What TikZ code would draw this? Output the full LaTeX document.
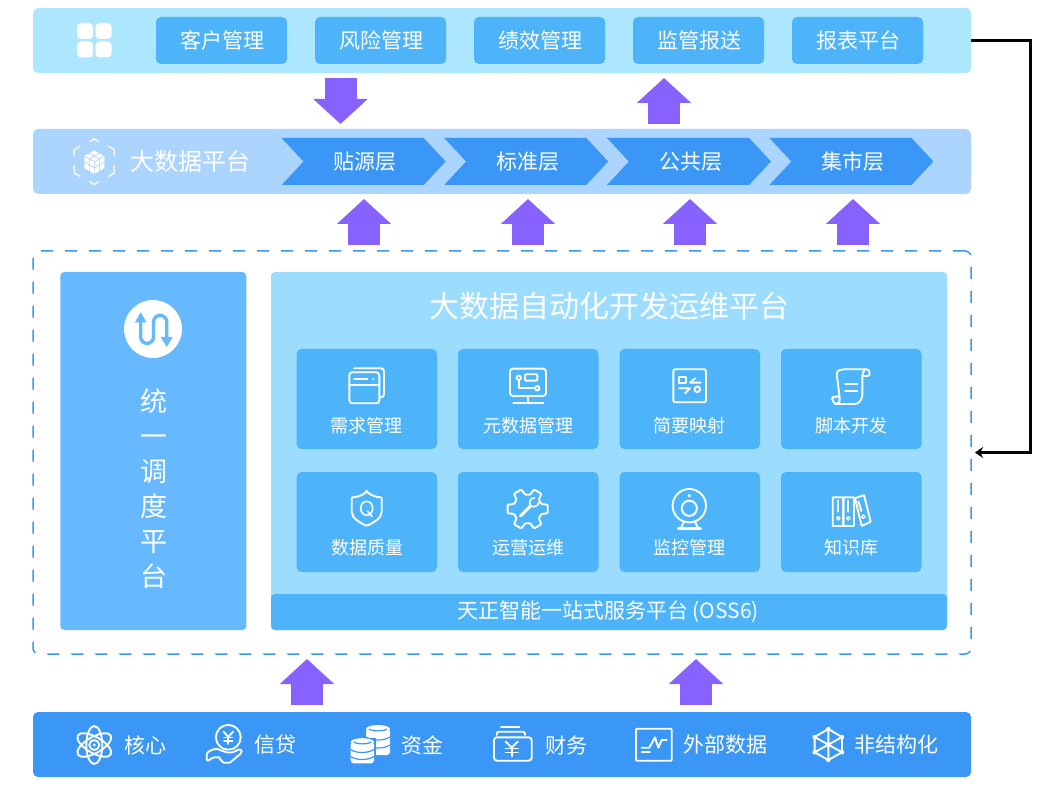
\documentclass[tikz,border=0pt]{standalone}
\usepackage{fontspec}
\setmainfont{Noto Sans CJK SC}
\usetikzlibrary{arrows.meta,shapes.symbols}

\definecolor{topblue}{HTML}{ADE6FF}
\definecolor{midblue}{HTML}{ABD4FF}
\definecolor{deepblue}{HTML}{3A97F5}
\definecolor{cardblue}{HTML}{4DB4FA}
\definecolor{sideblue}{HTML}{66B8FF}
\definecolor{panelblue}{HTML}{9BDCFF}
\definecolor{flowpurple}{HTML}{8762FF}

\tikzset{
	bar/.style={inner sep=0pt, outer sep=0pt, minimum width=938pt, minimum height=65pt, rounded corners=5pt},
	btn/.style={fill=cardblue, text=white, inner sep=0pt, outer sep=0pt, minimum width=131pt, minimum height=47pt, rounded corners=5pt, font=\fontsize{21pt}{21pt}\selectfont},
	chev/.style={signal, signal from=west, signal to=east, signal pointer angle=94, fill=deepblue, text=white, inner sep=0pt, outer sep=0pt, minimum width=164pt, minimum height=47pt, font=\fontsize{21pt}{21pt}\selectfont, execute at begin node=\hspace{3pt}},
	card/.style={fill=cardblue, inner sep=0pt, outer sep=0pt, minimum width=140.5pt, minimum height=100pt, rounded corners=5pt},
	cardtext/.style={text=white, inner sep=0pt, font=\fontsize{18pt}{18pt}\selectfont},
	srctext/.style={text=white, inner sep=0pt, font=\fontsize{21pt}{21pt}\selectfont},
	flow/.style={line width=32pt, draw=flowpurple, -{Triangle[width=53pt,length=25pt]}},
	icon/.style={draw=white, line width=1.9pt, line cap=round, line join=round},
	dot/.style={fill=white, draw=none}
}

\begin{document}
\begin{tikzpicture}[x=1pt, y=-1pt]
	\useasboundingbox (0, 0) rectangle (1053, 794);
	
	%%%%% top row %%%%%
	\node[bar, fill=topblue] (topbar) at (502, 40.5) {};
	\node[btn, execute at begin node=\hspace{2pt}] (custom) at (221.5, 40.5) {客户管理};
	\node[btn, execute at begin node=\hspace{2pt}] (risk) at (380.5, 40.5) {风险管理};
	\node[btn, execute at begin node=\hspace{2pt}] (perf) at (539.5, 40.5) {绩效管理};
	\node[btn, execute at begin node=\hspace{2pt}] (report) at (698.5, 40.5) {监管报送};
	\node[btn, execute at begin node=\hspace{2pt}] (forms) at (857.5, 40.5) {报表平台};
	
	\fill[dot, rounded corners=4pt] (77, 23) rectangle (93, 39);
	\fill[dot, rounded corners=4pt] (95.5, 23) rectangle (111.5, 39);
	\fill[dot, rounded corners=4pt] (77, 41.5) rectangle (93, 57.5);
	\fill[dot, rounded corners=4pt] (95.5, 41.5) rectangle (111.5, 57.5);
	
	%%%%% big data row %%%%%
	\node[bar, fill=midblue] (bigdata) at (502, 161.5) {};
	\node[text=white, inner sep=0pt, font=\fontsize{24pt}{24pt}\selectfont] (bigtitle) at (190, 161) {大数据平台};
	\node[chev] (source) at (363.6, 161.5) {贴源层};
	\node[chev] (standard) at (526.2, 161.5) {标准层};
	\node[chev] (common) at (689, 161.5) {公共层};
	\node[chev] (market) at (851.4, 161.5) {集市层};
	
	\draw[icon, line width=1.3pt] (90, 141.5) -- (94.3, 138.7) -- (98.6, 141.5);
	\draw[icon, line width=1.3pt] (90, 181.5) -- (94.3, 184.7) -- (98.6, 181.5);
	\draw[icon, line width=1.3pt] (80, 146.3) -- (74.3, 149.7) -- (74.3, 155.7);
	\draw[icon, line width=1.3pt] (74.3, 165.7) -- (74.3, 173) -- (80, 176.3);
	\draw[icon, line width=1.3pt] (108.6, 146.3) -- (114.3, 149.7) -- (114.3, 155.7);
	\draw[icon, line width=1.3pt] (114.3, 165.7) -- (114.3, 173) -- (108.6, 176.3);
	\fill[dot] (94.3, 150.5) -- (104.3, 156) -- (104.3, 168) -- (94.3, 174) -- (84.3, 168) -- (84.3, 156) -- cycle;
	\draw[midblue, line width=0.6pt] (84.3, 156) -- (94.3, 162) -- (104.3, 156) (94.3, 162) -- (94.3, 174);
	\draw[midblue, line width=0.6pt] (89.3, 153.2) -- (99.3, 159) (99.3, 153.2) -- (89.3, 159);
	\draw[midblue, line width=0.6pt] (84.3, 162) -- (94.3, 168) -- (104.3, 162) (89.3, 159) -- (89.3, 171) (99.3, 159) -- (99.3, 171);
	
	%%%%% dashed frame %%%%%
	\node[draw=deepblue, line width=1.5pt, dash pattern=on 12pt off 12pt, inner sep=0pt, outer sep=0pt, minimum width=938pt, minimum height=403pt, rounded corners=6pt] (frame) at (502, 452.5) {};
	
	\node[fill=sideblue, inner sep=0pt, outer sep=0pt, minimum width=186pt, minimum height=358pt, rounded corners=4pt] (side) at (153.25, 451) {};
	\node[text=white, inner sep=0pt, align=center, font=\fontsize{27pt}{35pt}\selectfont] (sidetext) at (153.5, 488.5) {统\\一\\调\\度\\平\\台};
	
	\fill[dot] (153, 329) circle (29);
	\draw[sideblue, line width=3.4pt] (140.7, 321) -- (140.7, 337) arc[start angle=180, end angle=360, radius=6.4pt] -- (153.5, 322) arc[start angle=180, end angle=0, radius=6.6pt] -- (166.7, 338);
	\fill[sideblue] (134.8, 322.5) -- (140.7, 312.3) -- (146.6, 322.5) -- cycle;
	\fill[sideblue] (160.7, 337) -- (166.7, 347) -- (172.7, 337) -- cycle;
	
	\node[fill=panelblue, inner sep=0pt, outer sep=0pt, minimum width=676pt, minimum height=358pt, rounded corners=4pt] (panel) at (609, 451) {};
	\node[text=white, inner sep=0pt, font=\fontsize{30pt}{30pt}\selectfont] (paneltitle) at (609, 306) {大数据自动化开发运维平台};
	\node[fill=cardblue, text=white, inner sep=0pt, outer sep=0pt, minimum width=676pt, minimum height=36pt, rounded corners=4pt, font=\fontsize{21pt}{21pt}\selectfont] (oss) at (609, 612) {\hspace{-2pt}天正智能一站式服务平台 (OSS6)};
	
	\node[card] (cardA) at (366.75, 399) {};
	\node[card] (cardB) at (528.25, 399) {};
	\node[card] (cardC) at (689.75, 399) {};
	\node[card] (cardD) at (851.25, 399) {};
	\node[card] (cardE) at (366.75, 522) {};
	\node[card] (cardF) at (528.25, 522) {};
	\node[card] (cardG) at (689.75, 522) {};
	\node[card] (cardH) at (851.25, 522) {};
	\node[cardtext] (textA) at (366.75, 425.5) {需求管理};
	\node[cardtext] (textB) at (528.25, 425.5) {元数据管理};
	\node[cardtext] (textC) at (689.75, 425.5) {简要映射};
	\node[cardtext] (textD) at (851.25, 425.5) {脚本开发};
	\node[cardtext] (textE) at (367.5, 547.5) {数据质量};
	\node[cardtext] (textF) at (528.25, 547.5) {运营运维};
	\node[cardtext] (textG) at (689.75, 547.5) {监控管理};
	\node[cardtext] (textH) at (851.25, 547.5) {知识库};
	
	% windows
	\draw[icon, rounded corners=3pt] (349.3, 372.3) rectangle (379.3, 403.3);
	\draw[icon] (349.3, 385) -- (379.3, 385);
	\draw[icon] (354, 379.3) -- (367.3, 379.3);
	\fill[dot] (373.3, 379.3) circle (1.2);
	\draw[icon, rounded corners=3pt] (354, 368.3) -- (384, 368.3) -- (384, 397.3) -- (379.3, 397.3);
	
	% monitor
	\draw[icon, rounded corners=3pt] (510, 368.7) rectangle (546, 396);
	\draw[icon] (527.7, 396) -- (527.7, 402.7);
	\draw[icon] (513.3, 402.7) -- (543.3, 402.7);
	\draw[icon] (518.7, 377.7) circle (2.2);
	\draw[icon] (518.7, 380) -- (518.7, 388.3) -- (535, 388.3);
	\draw[icon] (537.3, 388.3) circle (2.2);
	\draw[icon, rounded corners=1pt] (525, 374.3) rectangle (537.3, 380.7);
	
	% mapping
	\draw[icon, rounded corners=2pt] (673.3, 369.3) rectangle (706, 402.3);
	\draw[icon] (679, 377.3) -- (686, 377.3) -- (686, 382.7) -- (679, 382.7) -- cycle;
	\draw[icon] (679, 388.3) -- (690, 388.3) -- (685, 393.3);
	\draw[icon] (700.7, 382.7) -- (690, 382.7) -- (695, 378.3);
	\draw[icon] (697.3, 389.3) circle (2.8);
	
	% scroll
	\draw[icon, rounded corners=2.5pt] (862.3, 376) -- (870, 376) -- (869, 369.3) -- (842, 369.3) -- (836.5, 371.5) -- (839.5, 397) -- (840, 402) -- (836.7, 404) -- (834, 403.5) -- (832, 399.3) -- (832.7, 396.7) -- (839.5, 396.7);
	\draw[icon, rounded corners=3pt] (836.7, 404) -- (858, 404) -- (862.3, 398) -- (862.3, 373) -- (865, 369.3);
	\draw[icon] (845, 384.3) -- (857.3, 384.3);
	\draw[icon] (845, 390.7) -- (857.3, 390.7);
	
	% shield
	\draw[icon, rounded corners=1pt] (366.7, 491.7) .. controls (362, 495.5) and (357, 497.3) .. (351.7, 497.3) -- (351.7, 511) .. controls (351.7, 518) and (360, 523) .. (366.7, 525.7) .. controls (373.4, 523) and (381.7, 518) .. (381.7, 511) -- (381.7, 497.3) .. controls (376.4, 497.3) and (371.4, 495.5) .. cycle;
	\draw[icon, line width=1.6pt] (366.7, 508.3) ellipse (6 and 7);
	\draw[icon, line width=1.6pt] (367.5, 511) -- (372, 516.5);
	
	% gear
	\begin{scope}[shift={(527.7, 509)}]
		\draw[icon, rounded corners=1pt] (-12:20.5pt) -- (12:20.5pt) -- (20:14.5pt) -- (40:14.5pt) -- (48:20.5pt) -- (72:20.5pt) -- (80:14.5pt) -- (100:14.5pt) -- (108:20.5pt) -- (132:20.5pt) -- (140:14.5pt) -- (160:14.5pt) -- (168:20.5pt) -- (192:20.5pt) -- (200:14.5pt) -- (220:14.5pt) -- (228:20.5pt) -- (252:20.5pt) -- (260:14.5pt) -- (280:14.5pt) -- (288:20.5pt) -- (312:20.5pt) -- (320:14.5pt) -- (340:14.5pt) -- cycle;
	\end{scope}
	\draw[icon, line width=3pt] (520.5, 516) -- (530.5, 506);
	\draw[icon, line width=1.7pt] (534.5, 497.8) .. controls (530, 498) and (528.5, 502.5) .. (530.5, 505.5) .. controls (533, 508) and (538, 506.5) .. (539, 502.5);
	
	% camera
	\draw[icon] (689.3, 505.7) circle (16.7);
	\draw[icon] (689.3, 508.3) circle (7.6);
	\fill[dot] (689.3, 495.7) circle (1.8);
	\draw[icon] (684, 521.7) -- (680.7, 528.3);
	\draw[icon] (695, 521.7) -- (698.3, 528.3);
	\draw[icon, line width=2.6pt] (678.3, 528.3) -- (700.7, 528.3);
	
	% binders
	\draw[icon, rounded corners=0.5pt] (832.7, 497.3) rectangle (843.3, 526);
	\draw[icon, rounded corners=0.5pt] (843.3, 497.3) rectangle (854, 526);
	\draw[icon, rounded corners=0.5pt] (855, 498.3) -- (864, 495) -- (870.7, 521.7) -- (861.7, 526) -- cycle;
	\draw[icon] (838.3, 500.7) -- (838.3, 511.7);
	\draw[icon] (848.3, 500.7) -- (848.3, 511.7);
	\draw[icon] (858.5, 501.5) -- (861.3, 511);
	\draw[icon, line width=1.2pt] (838.3, 518.3) circle (1.8);
	\draw[icon, line width=1.2pt] (848.3, 518.3) circle (1.8);
	\draw[icon, line width=1.2pt] (863.3, 516.7) circle (1.8);
	
	%%%%% source row %%%%%
	\node[bar, fill=deepblue] (srcbar) at (502, 744.5) {};
	\node[srctext] (core) at (145.5, 745) {核心};
	\node[srctext] (credit) at (275, 745) {信贷};
	\node[srctext] (fund) at (422.5, 745) {资金};
	\node[srctext] (finance) at (566, 745) {财务};
	\node[srctext] (external) at (725.5, 745) {外部数据};
	\node[srctext] (unstruct) at (896, 745) {非结构化};
	
	% atom
	\draw[icon, rotate around={30:(94.3, 745)}] (94.3, 745) ellipse (19 and 8);
	\draw[icon, rotate around={90:(94.3, 745)}] (94.3, 745) ellipse (19 and 8);
	\draw[icon, rotate around={150:(94.3, 745)}] (94.3, 745) ellipse (19 and 8);
	\draw[icon] (94.3, 745) circle (5);
	\fill[dot] (94.3, 745) circle (1.6);
	
	% coin in hand
	\draw[icon] (228.3, 737.3) circle (12.4);
	\draw[icon] (223.5, 731.5) -- (228.3, 737) -- (233.1, 731.5);
	\draw[icon] (228.3, 737) -- (228.3, 744);
	\draw[icon, line width=1.6pt] (224, 737.5) -- (232.6, 737.5);
	\draw[icon, line width=1.6pt] (224, 741) -- (232.6, 741);
	\draw[icon, rounded corners=2.5pt] (206.7, 752.7) .. controls (212, 749.5) and (216, 748.5) .. (220, 750) .. controls (224, 751.5) and (227, 752.5) .. (230, 752.7) .. controls (234, 752) and (238, 749.5) .. (241.7, 749.3) -- (241.7, 753.3) .. controls (236, 757) and (231, 762.7) .. (226.7, 762.7) .. controls (222, 762.7) and (219, 757.3) .. (216.7, 757.3) .. controls (213, 757.3) and (210, 759.5) .. (206.7, 761.7) -- cycle;
	
	% coins
	\fill[dot, rounded corners=3pt] (366, 729) rectangle (390, 755);
	\fill[dot] (378, 729) ellipse (12 and 4);
	\draw[deepblue, line width=1.2pt] (369, 729) .. controls (372, 731.5) and (384, 731.5) .. (387, 729);
	\draw[deepblue, line width=1.2pt] (366, 737) .. controls (372, 741) and (384, 741) .. (390, 737);
	\draw[deepblue, line width=1.2pt] (366, 745) .. controls (372, 749) and (384, 749) .. (390, 745);
	\fill[deepblue] (348.9, 738) rectangle (375.8, 764.5);
	\fill[dot, rounded corners=3pt] (350.7, 742) rectangle (374, 763.3);
	\fill[dot] (362.3, 742) ellipse (11.6 and 3.8);
	\draw[deepblue, line width=1.2pt] (354, 742) .. controls (357, 744.5) and (368, 744.5) .. (371, 742);
	\draw[deepblue, line width=1.2pt] (350.7, 749.5) .. controls (356, 753.5) and (368, 753.5) .. (374, 749.5);
	\draw[deepblue, line width=1.2pt] (350.7, 756.5) .. controls (356, 760.5) and (368, 760.5) .. (374, 756.5);
	
	% bill
	\draw[icon] (501, 727.3) -- (519.3, 727.3);
	\draw[icon, rounded corners=2pt] (496.7, 735) -- (496.7, 731.7) -- (525, 731.7) -- (525, 735);
	\draw[icon, rounded corners=3pt] (494, 737.3) rectangle (531.7, 760.7);
	\draw[icon] (505.5, 741.5) -- (511.7, 747.5) -- (517.9, 741.5);
	\draw[icon] (511.7, 747.5) -- (511.7, 756.5);
	\draw[icon] (505.5, 748.5) -- (517.9, 748.5);
	\draw[icon] (505.5, 752.5) -- (517.9, 752.5);
	
	% chart
	\draw[icon, rounded corners=1pt] (636, 728.7) rectangle (671.7, 760.7);
	\draw[icon] (641.7, 747.7) -- (649.3, 747.7) -- (655, 737.3) -- (658.3, 747.7) -- (661.7, 740) -- (666.7, 740);
	\draw[icon] (641.7, 751.7) -- (650, 751.7);
	
	% mesh
	\draw[icon] (828.3, 729) -- (842, 737) -- (842, 752.3) -- (828.3, 760) -- (814.6, 752.3) -- (814.6, 737) -- cycle;
	\draw[icon] (828.3, 729) -- (828.3, 760) (814.6, 737) -- (842, 752.3) (842, 737) -- (814.6, 752.3);
	\fill[dot] (828.3, 729) circle (2.2);
	\fill[dot] (842, 737) circle (2.2);
	\fill[dot] (842, 752.3) circle (2.2);
	\fill[dot] (828.3, 760) circle (2.2);
	\fill[dot] (814.6, 752.3) circle (2.2);
	\fill[dot] (814.6, 737) circle (2.2);
	
	%%%%% connectors %%%%%
	\coordinate (downin) at (340.5, 73);
	\coordinate (upout) at (664, 129);
	\coordinate (feedA) at (364, 251);
	\coordinate (feedB) at (528, 251);
	\coordinate (feedC) at (690, 251);
	\coordinate (feedD) at (853, 251);
	\coordinate (srcA) at (307, 712);
	\coordinate (srcB) at (696, 712);
	
	\draw[flow, shorten <=5pt, shorten >=5pt] (downin) -- (downin |- bigdata.north);
	\draw[flow, shorten <=5pt, shorten >=5pt] (upout) -- (upout |- topbar.south);
	\draw[flow, shorten <=6pt, shorten >=5pt] (feedA) -- (feedA |- bigdata.south);
	\draw[flow, shorten <=6pt, shorten >=5pt] (feedB) -- (feedB |- bigdata.south);
	\draw[flow, shorten <=6pt, shorten >=5pt] (feedC) -- (feedC |- bigdata.south);
	\draw[flow, shorten <=6pt, shorten >=5pt] (feedD) -- (feedD |- bigdata.south);
	\draw[flow, shorten <=7pt, shorten >=5pt] (srcA) -- (srcA |- frame.south);
	\draw[flow, shorten <=7pt, shorten >=5pt] (srcB) -- (srcB |- frame.south);
	
	\draw[line width=2.6pt, -{Stealth[length=8pt, width=11pt]}, shorten >=4pt] (topbar.east) -- (1030.5, 40.5) |- (frame.east);
	
\end{tikzpicture}
\end{document}
